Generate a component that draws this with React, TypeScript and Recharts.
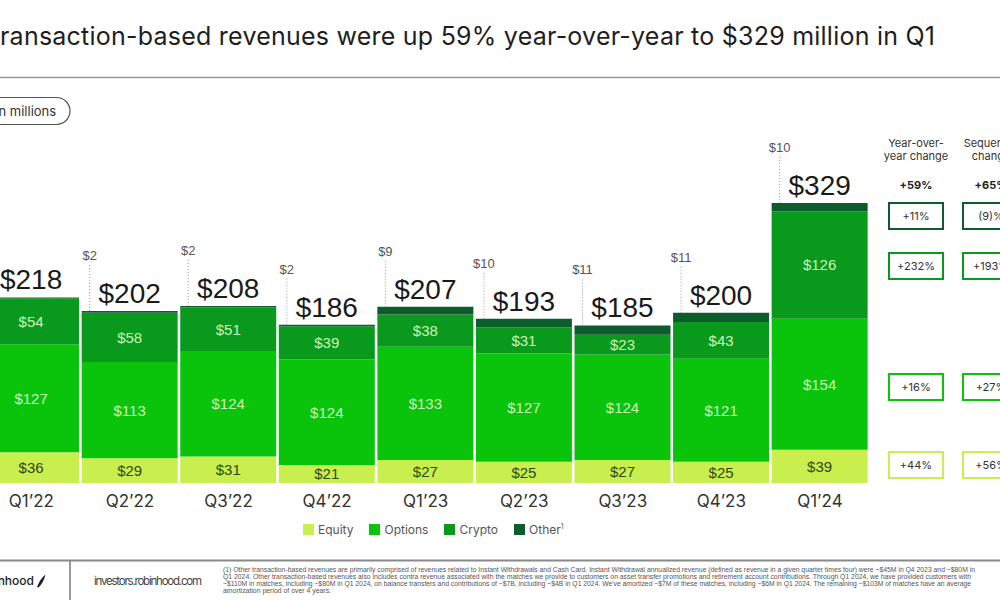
import React from "react";
import { BarChart, Bar, XAxis, YAxis, LabelList } from "recharts";

const quarters = ["Q1’22", "Q2’22", "Q3’22", "Q4’22", "Q1’23", "Q2’23", "Q3’23", "Q4’23", "Q1’24"];
const equity = [36, 29, 31, 21, 27, 25, 27, 25, 39];
const options = [127, 113, 124, 124, 133, 127, 124, 121, 154];
const crypto = [54, 58, 51, 39, 38, 31, 23, 43, 126];
const other = [1, 2, 2, 2, 9, 10, 11, 11, 10];
const totals = [218, 202, 208, 186, 207, 193, 185, 200, 329];

const yoyTotal = "+59%";
const seqTotal = "+65%";
// rows top to bottom: Other, Crypto, Options, Equity
const yoyChange = ["+11%", "+232%", "+16%", "+44%"];
const seqChange = ["(9)%", "+193%", "+27%", "+56%"];

const COLORS = {
  equity: "#c9ef4f",
  options: "#0ac40c",
  crypto: "#08991d",
  other: "#0d5c2c",
};

const legendItems = [
  { name: "Equity", color: COLORS.equity },
  { name: "Options", color: COLORS.options },
  { name: "Crypto", color: COLORS.crypto },
  { name: "Other", color: COLORS.other, sup: "1" },
];

const data = quarters.map((q, i) => ({
  q,
  equity: equity[i],
  options: options[i],
  crypto: crypto[i],
  other: other[i],
}));

const SANS = "Inter, 'Noto Sans', sans-serif";
const NUM = "'Liberation Sans', Arial, sans-serif";

const fmt = (v: any) => `$${v}`;

function QuarterTick(props: any) {
  const { x, y, payload } = props;
  return (
    <text x={x} y={y + 24} textAnchor="middle" fontSize={17} fill="#333" fontFamily={SANS}>
      {payload.value}
    </text>
  );
}

function TopLabel(props: any) {
  const vb = props.viewBox || props;
  const x = Number(vb.x);
  const y = Number(vb.y);
  const width = Number(vb.width);
  const i = props.index;
  const lx = x + 8;
  return (
    <g>
      <line x1={lx} x2={lx} y1={y - 46} y2={y} stroke="#9a9a9a" strokeDasharray="1 2" />
      <text x={lx} y={y - 51} textAnchor="middle" fontSize={13} fill="#555" fontFamily={NUM}>
        {fmt(other[i])}
      </text>
      <text x={x + width / 2} y={y - 8} textAnchor="middle" fontSize={28} fill="#1a1a1a" fontFamily={NUM}>
        {fmt(totals[i])}
      </text>
    </g>
  );
}

const footnote = [
  "(1) Other transaction-based revenues are primarily comprised of revenues related to Instant Withdrawals and Cash Card. Instant Withdrawal annualized revenue (defined as revenue in a given quarter times four) were ~$45M in Q4 2023 and ~$80M in",
  "Q1 2024. Other transaction-based revenues also includes contra revenue associated with the matches we provide to customers on asset transfer promotions and retirement account contributions. Through Q1 2024, we have provided customers with",
  "~$110M in matches, including ~$80M in Q1 2024, on balance transfers and contributions of  ~$7B, including ~$4B in Q1 2024. We've amortized ~$7M of these matches, including ~$6M in Q1 2024. The remaining ~$103M of matches have an average",
  "amortization period of over 4 years.",
];
const footnoteWidths = [752, 748, 748, 108];

const boxTops = [203, 253, 374, 452];
const boxColors = [COLORS.other, COLORS.crypto, COLORS.options, COLORS.equity];

export default function App() {
  return (
    <div
      style={{
        position: "absolute",
        left: 0,
        top: 0,
        width: 1000,
        height: 600,
        overflow: "hidden",
        background: "#fff",
        fontFamily: SANS,
      }}
    >
      <div style={{ position: "absolute", left: -30, top: 0 }}>
        <BarChart
          width={1030}
          height={600}
          data={data}
          margin={{ top: 185, right: 130.8, bottom: 77, left: 12.1 }}
          barSize={96}
        >
          <XAxis
            dataKey="q"
            axisLine={false}
            tickLine={false}
            tickSize={0}
            tickMargin={0}
            interval={0}
            height={40}
            tick={<QuarterTick />}
          />
          <YAxis hide domain={[0, 350]} />
          <Bar dataKey="equity" stackId="a" fill={COLORS.equity} isAnimationActive={false}>
            <LabelList dataKey="equity" position="center" formatter={fmt} fill="#2b4a12" fontSize={15} fontFamily={NUM} />
          </Bar>
          <Bar dataKey="options" stackId="a" fill={COLORS.options} isAnimationActive={false}>
            <LabelList dataKey="options" position="center" formatter={fmt} fill="#cdf5b4" fontSize={15} fontFamily={NUM} />
          </Bar>
          <Bar dataKey="crypto" stackId="a" fill={COLORS.crypto} isAnimationActive={false}>
            <LabelList dataKey="crypto" position="center" formatter={fmt} fill="#cdf5b4" fontSize={15} fontFamily={NUM} />
          </Bar>
          <Bar dataKey="other" stackId="a" fill={COLORS.other} isAnimationActive={false}>
            <LabelList dataKey="other" content={<TopLabel />} />
          </Bar>
        </BarChart>
      </div>

      <svg width={1000} height={600} style={{ position: "absolute", left: 0, top: 0, pointerEvents: "none" }}>
        {/* title */}
        <text x={-15} y={45} fontSize={25} fill="#1e1e1e" fontFamily={SANS} textLength={950} lengthAdjust="spacing">
          Transaction-based revenues were up 59% year-over-year to $329 million in Q1
        </text>
        <line x1={0} x2={1000} y1={77.5} y2={77.5} stroke="#9a9a9a" strokeWidth={1.5} />

        {/* units pill */}
        <rect x={-20} y={97.5} width={90} height={27} rx={13.5} fill="none" stroke="#555" strokeWidth={1.2} />
        <text x={-5} y={115.5} fontSize={13} fill="#333" fontFamily={SANS}>
          In millions
        </text>

        {/* change table */}
        <text x={916} y={147} textAnchor="middle" fontSize={11} fill="#333" fontFamily={SANS}>Year-over-</text>
        <text x={916} y={160} textAnchor="middle" fontSize={11} fill="#333" fontFamily={SANS}>year change</text>
        <text x={991} y={147} textAnchor="middle" fontSize={11} fill="#333" fontFamily={SANS}>Sequential</text>
        <text x={991} y={160} textAnchor="middle" fontSize={11} fill="#333" fontFamily={SANS}>change</text>
        <text x={916} y={189} textAnchor="middle" fontSize={11} fontWeight={700} fill="#222" fontFamily={SANS}>{yoyTotal}</text>
        <text x={991} y={189} textAnchor="middle" fontSize={11} fontWeight={700} fill="#222" fontFamily={SANS}>{seqTotal}</text>
        {boxTops.map((t, i) => (
          <g key={i}>
            <rect x={889} y={t} width={54} height={26} fill="#fff" stroke={boxColors[i]} strokeWidth={2} />
            <text x={916} y={t + 17} textAnchor="middle" fontSize={11} fill="#333" fontFamily={SANS}>{yoyChange[i]}</text>
            <rect x={963} y={t} width={56} height={26} fill="#fff" stroke={boxColors[i]} strokeWidth={2} />
            <text x={991} y={t + 17} textAnchor="middle" fontSize={11} fill="#333" fontFamily={SANS}>{seqChange[i]}</text>
          </g>
        ))}

        {/* footer */}
        <line x1={0} x2={1000} y1={560.5} y2={560.5} stroke="#8a8a8a" strokeWidth={2} />
        <line x1={70} x2={70} y1={561} y2={600} stroke="#777" strokeWidth={1.5} />
        <text x={34} y={585} textAnchor="end" fontSize={12} fontWeight={500} fill="#222" fontFamily={SANS}>Robinhood</text>
        <path d="M37 587 Q40 579 45.5 574.5 Q44 582 38.5 587.5 Z" fill="#222" />
        <text x={94} y={585} fontSize={11.5} fill="#444" fontFamily={SANS} textLength={108} lengthAdjust="spacing">
          investors.robinhood.com
        </text>
        {footnote.map((line, i) => (
          <text
            key={i}
            x={223}
            y={571.5 + i * 7.3}
            fontSize={6.4}
            fill="#555"
            fontFamily={NUM}
            textLength={footnoteWidths[i]}
            lengthAdjust="spacingAndGlyphs"
          >
            {line}
          </text>
        ))}
      </svg>

      {/* legend */}
      <div
        style={{
          position: "absolute",
          left: 303,
          top: 522,
          display: "flex",
          gap: 16,
          alignItems: "center",
          fontSize: 12,
          color: "#555",
          fontFamily: SANS,
        }}
      >
        {legendItems.map((it) => (
          <div key={it.name} style={{ display: "flex", alignItems: "center", gap: 4 }}>
            <span style={{ display: "inline-block", width: 11, height: 11, background: it.color }} />
            <span>
              {it.name}
              {it.sup ? <sup style={{ fontSize: 7 }}>{it.sup}</sup> : null}
            </span>
          </div>
        ))}
      </div>
    </div>
  );
}
